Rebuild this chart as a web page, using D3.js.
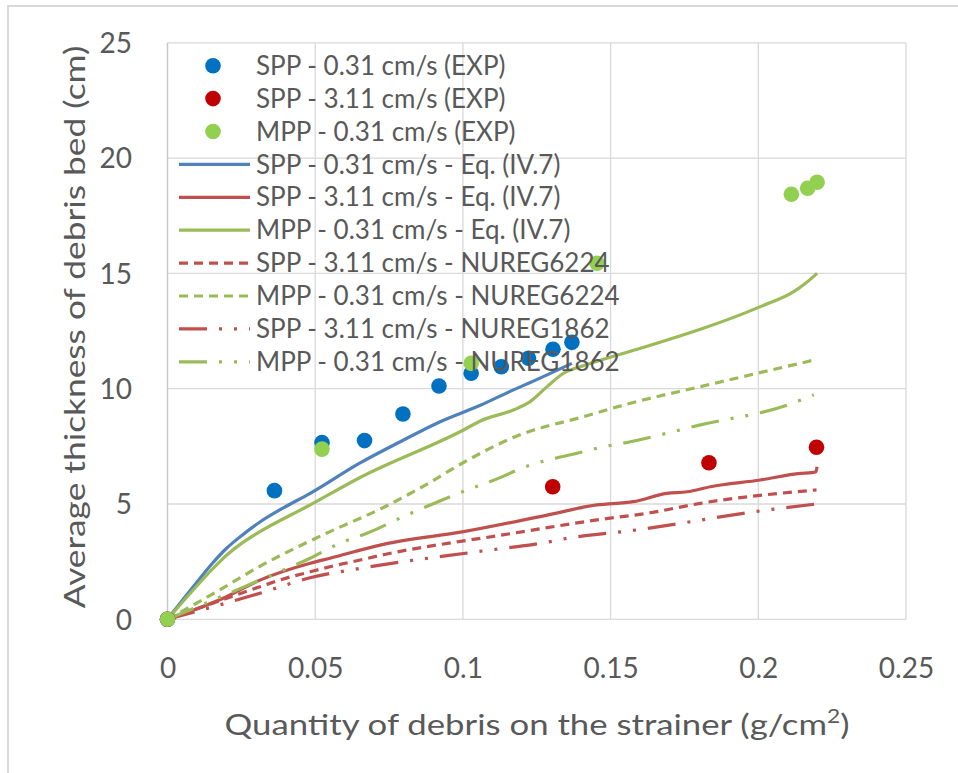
<!DOCTYPE html>
<html>
<head>
<meta charset="utf-8">
<script src="https://cdn.jsdelivr.net/npm/d3@7"></script>
<style>
  html, body { margin: 0; padding: 0; background: #fff; }
  svg { display: block; }
  text { font-family: Lato, "Open Sans", sans-serif; fill: #595959; }
</style>
</head>
<body>
<svg id="chart" width="958" height="773"></svg>
<script>
// Experimental points [quantity g/cm², thickness cm]
const sppLowExp = [[0,0],[0.0362,5.58],[0.0523,7.66],[0.0667,7.75],[0.0797,8.90],[0.0919,10.12],
  [0.1028,10.67],[0.1130,10.95],[0.1222,11.32],[0.1305,11.71],[0.1369,12.01]];
const sppHighExp = [[0,0],[0.1304,5.75],[0.1833,6.79],[0.2197,7.46]];
const mppLowExp = [[0,0],[0.0523,7.38],[0.1028,11.10],[0.1454,15.44],[0.2112,18.43],[0.2167,18.69],[0.2199,18.95]];

// Model curves
const sppLowEq = [[0,0],[0.0087,1.41],[0.0150,2.40],[0.0200,3.08],[0.0246,3.58],[0.0313,4.22],[0.0392,4.83],
  [0.0483,5.46],[0.0652,6.78],[0.0788,7.70],[0.0923,8.57],[0.1059,9.28],[0.1171,9.95],[0.1228,10.27],[0.1369,11.10]];
const sppHighEq = [[0,0],[0.0200,0.98],[0.0313,1.70],[0.0483,2.43],[0.0550,2.65],[0.0731,3.25],[0.1002,3.80],
  [0.1285,4.52],[0.1454,4.96],[0.1577,5.10],[0.1690,5.46],[0.1759,5.53],[0.1838,5.75],[0.2007,6.04],
  [0.2143,6.33],[0.2180,6.36],[0.2195,6.40],[0.2199,6.62]];
const mppLowEq = [[0,0],[0.0087,1.27],[0.0150,2.15],[0.0200,2.78],[0.0246,3.25],[0.0313,3.80],[0.0483,4.96],
  [0.0652,6.15],[0.1002,8.21],[0.1059,8.60],[0.1171,9.08],[0.1228,9.44],[0.1285,10.09],[0.1341,10.67],
  [0.1397,10.95],[0.1488,11.32],[0.1601,11.75],[0.2007,13.56],[0.2120,14.21],[0.2160,14.57],[0.2199,15.00]];
const sppHighNureg6224 = [[0,0],[0.0313,1.41],[0.0392,1.75],[0.0483,2.06],[0.0550,2.28],[0.0652,2.57],
  [0.0731,2.80],[0.1002,3.40],[0.1070,3.53],[0.1454,4.31],[0.1634,4.62],[0.1804,5.03],[0.2197,5.61]];
const mppLowNureg6224 = [[0,0],[0.0167,1.20],[0.0313,2.30],[0.0483,3.40],[0.0550,3.80],[0.0731,4.85],
  [0.0870,5.80],[0.1002,6.80],[0.1183,7.95],[0.1409,8.79],[0.1567,9.37],[0.1804,10.09],[0.2188,11.24]];
const sppHighNureg1862 = [[0,0],[0.0313,1.13],[0.0483,1.80],[0.0652,2.21],[0.0788,2.48],[0.1047,2.93],
  [0.1296,3.37],[0.1352,3.51],[0.1567,3.84],[0.2030,4.74],[0.2197,5.00]];
const mppLowNureg1862 = [[0,0],[0.0313,1.70],[0.0483,2.65],[0.0584,3.30],[0.0675,3.73],[0.0810,4.52],
  [0.0991,5.49],[0.1138,6.21],[0.1183,6.47],[0.1409,7.27],[0.1465,7.45],[0.1567,7.70],[0.1804,8.43],
  [0.2098,9.29],[0.2188,9.73]];

const xTicks = [0, 0.05, 0.1, 0.15, 0.2, 0.25];
const xTickLabels = ["0", "0.05", "0.1", "0.15", "0.2", "0.25"];
const yTicks = [0, 5, 10, 15, 20, 25];
const yTickLabels = ["0", "5", "10", "15", "20", "25"];

const C = {
  blueDot: "#0070C0", redDot: "#C00000", greenDot: "#92D050",
  blue: "#4F81BD", red: "#C0504D", green: "#9BBB59"
};
const DASH = "9,6";
const LDDD = "28,12,3,12,3,12";

const points = [
  { name: "SPP - 0.31 cm/s (EXP)", data: sppLowExp, color: C.blueDot },
  { name: "SPP - 3.11 cm/s (EXP)", data: sppHighExp, color: C.redDot },
  { name: "MPP - 0.31 cm/s (EXP)", data: mppLowExp, color: C.greenDot }
];
const lines = [
  { name: "SPP - 0.31 cm/s - Eq. (IV.7)", data: sppLowEq, color: C.blue, dash: null },
  { name: "SPP - 3.11 cm/s - Eq. (IV.7)", data: sppHighEq, color: C.red, dash: null },
  { name: "MPP - 0.31 cm/s - Eq. (IV.7)", data: mppLowEq, color: C.green, dash: null },
  { name: "SPP - 3.11 cm/s - NUREG6224", data: sppHighNureg6224, color: C.red, dash: DASH },
  { name: "MPP - 0.31 cm/s - NUREG6224", data: mppLowNureg6224, color: C.green, dash: DASH },
  { name: "SPP - 3.11 cm/s - NUREG1862", data: sppHighNureg1862, color: C.red, dash: LDDD },
  { name: "MPP - 0.31 cm/s - NUREG1862", data: mppLowNureg1862, color: C.green, dash: LDDD }
];

const svg = d3.select("#chart");
const x = d3.scaleLinear().domain([0, 0.25]).range([167.5, 906]);
const y = d3.scaleLinear().domain([0, 25]).range([619.3, 42.8]);

// outer chart frame
svg.append("rect").attr("x", 8).attr("y", 6).attr("width", 1000).attr("height", 900)
  .attr("fill", "none").attr("stroke", "#d9d9d9").attr("stroke-width", 2);

// gridlines
const grid = svg.append("g");
grid.selectAll("line.h").data(yTicks).join("line")
  .attr("x1", x(0)).attr("x2", x(0.25)).attr("y1", d => y(d)).attr("y2", d => y(d))
  .attr("stroke", "#d9d9d9").attr("stroke-width", 1.3);
grid.selectAll("line.v").data(xTicks).join("line")
  .attr("y1", y(0)).attr("y2", y(25)).attr("x1", d => x(d)).attr("x2", d => x(d))
  .attr("stroke", "#d9d9d9").attr("stroke-width", 1.3);
svg.append("line").attr("x1", x(0)).attr("x2", x(0)).attr("y1", y(0)).attr("y2", y(25))
  .attr("stroke", "#c8c8c8").attr("stroke-width", 1.3);

// axes with tick text only
const xAxis = d3.axisBottom(x).tickValues(xTicks).tickFormat((d, i) => xTickLabels[i]).tickSize(0).tickPadding(0);
const gx = svg.append("g").attr("transform", `translate(0,${y(0)})`).call(xAxis);
gx.select(".domain").remove();
gx.selectAll("text").attr("y", 59).attr("dy", null).style("font-size", "28px").attr("fill", "#595959");

const yAxis = d3.axisLeft(y).tickValues(yTicks).tickFormat((d, i) => yTickLabels[i]).tickSize(0).tickPadding(0);
const gy = svg.append("g").attr("transform", `translate(132,0)`).call(yAxis);
gy.select(".domain").remove();
gy.selectAll("text").attr("x", 0).attr("dy", "0.35em").style("font-size", "28px").attr("fill", "#595959");

// axis titles, stretched along their baseline to span the target length
function stretchTitle(sel, span) {
  const w = sel.node().getBBox().width;
  return span / w;
}
const xt = svg.append("text").attr("text-anchor", "middle").style("font-size", "29px");
xt.append("tspan").text("Quantity of debris on the strainer (g/cm");
xt.append("tspan").text("2").style("font-size", "19px").attr("dy", -12);
xt.append("tspan").text(")").attr("dy", 12);
const sx = stretchTitle(xt, 625);
xt.attr("transform", `translate(537,735) scale(${sx},1)`);

const yt = svg.append("text").attr("text-anchor", "middle").style("font-size", "29px")
  .text("Average thickness of debris bed (cm)");
const sy = stretchTitle(yt, 563);
yt.attr("transform", `translate(85,327) rotate(-90) scale(${sy},1)`);

// model curves
const lineGen = d3.line().x(d => x(d[0])).y(d => y(d[1])).curve(d3.curveMonotoneX);
svg.append("g").selectAll("path").data(lines).join("path")
  .attr("d", d => lineGen(d.data))
  .attr("fill", "none").attr("stroke", d => d.color).attr("stroke-width", 3.2)
  .attr("stroke-dasharray", d => d.dash);

// experimental points
points.forEach(s => {
  svg.append("g").selectAll("circle").data(s.data).join("circle")
    .attr("cx", d => x(d[0])).attr("cy", d => y(d[1])).attr("r", 7.8).attr("fill", s.color);
});

// legend
const leg = svg.append("g");
const rowY = i => 65.7 + i * 32.9;
points.forEach((s, i) => {
  leg.append("circle").attr("cx", 213).attr("cy", rowY(i)).attr("r", 7.8).attr("fill", s.color);
  leg.append("text").attr("x", 256).attr("y", rowY(i)).attr("dy", "0.35em").style("font-size", "26px").text(s.name);
});
lines.forEach((s, j) => {
  const i = j + 3;
  leg.append("line").attr("x1", 179).attr("x2", 250).attr("y1", rowY(i)).attr("y2", rowY(i))
    .attr("stroke", s.color).attr("stroke-width", 3.2).attr("stroke-dasharray", s.dash);
  leg.append("text").attr("x", 256).attr("y", rowY(i)).attr("dy", "0.35em").style("font-size", "26px").text(s.name);
});
</script>
</body>
</html>
